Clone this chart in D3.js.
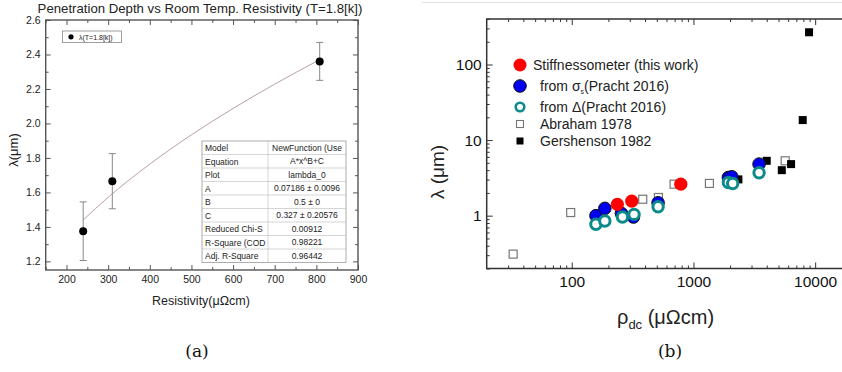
<!DOCTYPE html>
<meta charset="utf-8">
<html>
<head>
<style>
  body { margin: 0; background: #fff; }
  text { font-family: "Liberation Sans", Arial, sans-serif; fill: #222; }
  .axa .domain, .axb .domain { display: none; }
  .axa line { stroke: #555; stroke-width: 1; }
  .axb line { stroke: #333; stroke-width: 1; }
  .axa text { font-size: 10.5px; fill: #222; }
  .axb text { font-size: 15.5px; fill: #111; }
  .cap { font-family: "DejaVu Serif", "Liberation Serif", serif; font-size: 17px; fill: #111; }
</style>
<script src="https://cdnjs.cloudflare.com/ajax/libs/d3/7.8.5/d3.min.js"></script>
</head>
<body>
<div id="chart"></div>
<script>
// ---- panel (a): penetration depth vs resistivity ----
var resist = [240, 310, 808],
    lambdaA = [1.375, 1.665, 2.36],
    lambdaErr = [0.17, 0.16, 0.11];
// fit curve
var fitX = [240, 300, 400, 500, 600, 700, 808],
    fitY = [1.44, 1.572, 1.764, 1.934, 2.087, 2.228, 2.37];
var fitRows = [
  ["Model", "NewFunction (Use"],
  ["Equation", "A*x^B+C"],
  ["Plot", "lambda_0"],
  ["A", "0.07186 \u00b1 0.0096"],
  ["B", "0.5 \u00b1 0"],
  ["C", "0.327 \u00b1 0.20576"],
  ["Reduced Chi-S", "0.00912"],
  ["R-Square (COD", "0.98221"],
  ["Adj. R-Square", "0.96442"]
];
var xTicksA = [200, 300, 400, 500, 600, 700, 800, 900],
    xMinorA = [150, 250, 350, 450, 550, 650, 750, 850],
    yTicksA = [1.2, 1.4, 1.6, 1.8, 2.0, 2.2, 2.4, 2.6],
    yMinorA = [1.3, 1.5, 1.7, 1.9, 2.1, 2.3, 2.5];

// ---- panel (b): lambda vs rho_dc, log-log ----
var stiffX = [237, 311, 787],
    stiffY = [1.41, 1.56, 2.61];
var sigmaX = [158, 187, 256, 321, 512, 1936, 2065, 3460],
    sigmaY = [1.0, 1.25, 1.07, 0.96, 1.48, 3.2, 3.27, 4.81];
var deltaX = [158, 187, 261, 325, 512, 1936, 2100, 3460],
    deltaY = [0.77, 0.85, 0.96, 1.04, 1.31, 2.75, 2.67, 3.69];
var abrahamX = [33, 98, 383, 515, 693, 1352, 5670],
    abrahamY = [0.31, 1.1, 1.65, 1.74, 2.61, 2.67, 5.32];
var gershX = [2340, 4000, 5320, 6340, 7900, 8910],
    gershY = [3.02, 5.32, 4.0, 4.81, 18.4, 267];
var xTicksB = [100, 1000, 10000],
    yTicksB = [1, 10, 100];

var svg = d3.select("#chart").append("svg")
    .attr("width", 842)
    .attr("height", 372);

// ================= panel (a) =================
var xa = d3.scaleLinear().domain([150, 900]).range([45.7, 358]),
    ya = d3.scaleLinear().domain([1.15, 2.6]).range([270, 20]);

var ga = svg.append("g");

ga.append("text")
  .attr("x", 200).attr("y", 13)
  .attr("text-anchor", "middle")
  .style("font-size", "13.2px")
  .text("Penetration Depth vs Room Temp. Resistivity (T=1.8[k])");

// axes with inside ticks
ga.append("g").attr("class", "axa").attr("transform", "translate(0,270)")
  .call(d3.axisBottom(xa).tickValues(xTicksA).tickSize(-5).tickPadding(6).tickFormat(d3.format("d")));
ga.append("g").attr("class", "axa").attr("transform", "translate(0,270)")
  .call(d3.axisBottom(xa).tickValues(xMinorA).tickSize(-3).tickFormat(""));
ga.append("g").attr("class", "axa").attr("transform", "translate(0,20)")
  .call(d3.axisTop(xa).tickValues(xTicksA).tickSize(-5).tickFormat(""));
ga.append("g").attr("class", "axa").attr("transform", "translate(0,20)")
  .call(d3.axisTop(xa).tickValues(xMinorA).tickSize(-3).tickFormat(""));
ga.append("g").attr("class", "axa").attr("transform", "translate(45.7,0)")
  .call(d3.axisLeft(ya).tickValues(yTicksA).tickSize(-5).tickPadding(5).tickFormat(d3.format(".1f")));
ga.append("g").attr("class", "axa").attr("transform", "translate(45.7,0)")
  .call(d3.axisLeft(ya).tickValues(yMinorA).tickSize(-3).tickFormat(""));
ga.append("g").attr("class", "axa").attr("transform", "translate(358,0)")
  .call(d3.axisRight(ya).tickValues(yTicksA).tickSize(-5).tickFormat(""));
ga.append("g").attr("class", "axa").attr("transform", "translate(358,0)")
  .call(d3.axisRight(ya).tickValues(yMinorA).tickSize(-3).tickFormat(""));

ga.append("rect")
  .attr("x", 45.7).attr("y", 20)
  .attr("width", 358 - 45.7).attr("height", 250)
  .style("fill", "none").style("stroke", "#555").style("stroke-width", 1.4);

// fit curve
ga.append("path")
  .datum(d3.zip(fitX, fitY))
  .attr("d", d3.line().x(function(d) { return xa(d[0]); }).y(function(d) { return ya(d[1]); }).curve(d3.curveMonotoneX))
  .style("fill", "none").style("stroke", "#b8a0a6").style("stroke-width", 1);

// error bars
var eb = ga.selectAll(".eb").data(resist).enter().append("g");
eb.append("line")
  .attr("x1", function(d) { return xa(d); }).attr("x2", function(d) { return xa(d); })
  .attr("y1", function(d, i) { return ya(lambdaA[i] - lambdaErr[i]); })
  .attr("y2", function(d, i) { return ya(lambdaA[i] + lambdaErr[i]); });
eb.append("line")
  .attr("x1", function(d) { return xa(d) - 3.5; }).attr("x2", function(d) { return xa(d) + 3.5; })
  .attr("y1", function(d, i) { return ya(lambdaA[i] - lambdaErr[i]); })
  .attr("y2", function(d, i) { return ya(lambdaA[i] - lambdaErr[i]); });
eb.append("line")
  .attr("x1", function(d) { return xa(d) - 3.5; }).attr("x2", function(d) { return xa(d) + 3.5; })
  .attr("y1", function(d, i) { return ya(lambdaA[i] + lambdaErr[i]); })
  .attr("y2", function(d, i) { return ya(lambdaA[i] + lambdaErr[i]); });
eb.selectAll("line").style("stroke", "#888").style("stroke-width", 1);

ga.selectAll(".pa").data(resist).enter().append("circle")
  .attr("cx", function(d) { return xa(d); })
  .attr("cy", function(d, i) { return ya(lambdaA[i]); })
  .attr("r", 4)
  .style("fill", "#000");

// legend (a)
ga.append("rect").attr("x", 62.5).attr("y", 31).attr("width", 59).attr("height", 11.5)
  .style("fill", "#fff").style("stroke", "#888").style("stroke-width", 0.8);
ga.append("circle").attr("cx", 71).attr("cy", 36.8).attr("r", 2.6).style("fill", "#000");
ga.append("text").attr("x", 79).attr("y", 39.5).style("font-size", "7px").text("\u03bb(T=1.8[k])");

// fit table
var tx = 202, tw = 144, tc = 268, ty = 141, rh = 13.5;
var tbl = ga.append("g");
tbl.append("rect").attr("x", tx).attr("y", ty).attr("width", tw).attr("height", rh * fitRows.length)
  .style("fill", "#fff").style("stroke", "#999").style("stroke-width", 0.8);
tbl.selectAll(".hl").data(fitRows.slice(1)).enter().append("line")
  .attr("x1", tx).attr("x2", tx + tw)
  .attr("y1", function(d, i) { return ty + rh * (i + 1); })
  .attr("y2", function(d, i) { return ty + rh * (i + 1); })
  .style("stroke", "#bbb").style("stroke-width", 0.6);
tbl.append("line").attr("x1", tc).attr("x2", tc).attr("y1", ty).attr("y2", ty + rh * fitRows.length)
  .style("stroke", "#bbb").style("stroke-width", 0.6);
tbl.selectAll(".c1").data(fitRows).enter().append("text")
  .attr("x", tx + 3).attr("y", function(d, i) { return ty + rh * i + 10; })
  .style("font-size", "8.5px").text(function(d) { return d[0]; });
tbl.selectAll(".c2").data(fitRows).enter().append("text")
  .attr("x", (tc + tx + tw) / 2).attr("y", function(d, i) { return ty + rh * i + 9.5; })
  .attr("text-anchor", "middle")
  .style("font-size", "8.5px").text(function(d) { return d[1]; });

ga.append("text")
  .attr("transform", "translate(18,150) rotate(-90)")
  .attr("text-anchor", "middle")
  .style("font-size", "13px")
  .text("\u03bb(\u03bcm)");
ga.append("text")
  .attr("x", 201).attr("y", 305)
  .attr("text-anchor", "middle")
  .style("font-size", "12.5px")
  .text("Resistivity(\u03bc\u03a9cm)");
ga.append("text").attr("class", "cap").attr("x", 197).attr("y", 357).attr("text-anchor", "middle").text("(a)");

// ================= panel (b) =================
var xb = d3.scaleLog().domain([20, 20000]).range([486.7, 851.8]),
    yb = d3.scaleLog().domain([0.2, 400]).range([268.5, 19]);

var gb = svg.append("g");

gb.append("line").attr("x1", 422).attr("x2", 842).attr("y1", 2.5).attr("y2", 2.5)
  .style("stroke", "#e2e2e2").style("stroke-width", 1);

var xMinorB = [], yMinorB = [];
[10, 100, 1000, 10000].forEach(function(dec) {
  for (var k = 2; k <= 9; k++) {
    var v = dec * k;
    if (v > 20 && v < 20000 && xTicksB.indexOf(v) < 0) xMinorB.push(v);
  }
});
[0.1, 1, 10, 100].forEach(function(dec) {
  for (var k = 2; k <= 9; k++) {
    var v = +(dec * k).toPrecision(3);
    if (v >= 0.2 && v <= 400) yMinorB.push(v);
  }
});

gb.append("g").attr("class", "axb").attr("transform", "translate(0,268.5)")
  .call(d3.axisBottom(xb).tickValues(xTicksB).tickSize(-6).tickPadding(7).tickFormat(d3.format("d")));
gb.append("g").attr("class", "axb").attr("transform", "translate(0,268.5)")
  .call(d3.axisBottom(xb).tickValues(xMinorB).tickSize(-3).tickFormat(""));
gb.append("g").attr("class", "axb").attr("transform", "translate(0,19)")
  .call(d3.axisTop(xb).tickValues(xTicksB).tickSize(-6).tickFormat(""));
gb.append("g").attr("class", "axb").attr("transform", "translate(0,19)")
  .call(d3.axisTop(xb).tickValues(xMinorB).tickSize(-3).tickFormat(""));
gb.append("g").attr("class", "axb").attr("transform", "translate(486.7,0)")
  .call(d3.axisLeft(yb).tickValues(yTicksB).tickSize(-6).tickPadding(5).tickFormat(d3.format("d")));
gb.append("g").attr("class", "axb").attr("transform", "translate(486.7,0)")
  .call(d3.axisLeft(yb).tickValues(yMinorB).tickSize(-3).tickFormat(""));

gb.append("path")
  .attr("d", "M842,19H486.7V268.5H842")
  .style("fill", "none").style("stroke", "#333").style("stroke-width", 1.5);

// data (b)
gb.selectAll(".ab").data(abrahamX).enter().append("rect")
  .attr("x", function(d) { return xb(d) - 4; })
  .attr("y", function(d, i) { return yb(abrahamY[i]) - 4; })
  .attr("width", 8).attr("height", 8)
  .style("fill", "#fff").style("stroke", "#777").style("stroke-width", 1.2);
gb.selectAll(".ge").data(gershX).enter().append("rect")
  .attr("x", function(d) { return xb(d) - 4; })
  .attr("y", function(d, i) { return yb(gershY[i]) - 4; })
  .attr("width", 8).attr("height", 8)
  .style("fill", "#000");
gb.selectAll(".sg").data(sigmaX).enter().append("circle")
  .attr("cx", function(d) { return xb(d); })
  .attr("cy", function(d, i) { return yb(sigmaY[i]); })
  .attr("r", 6.3)
  .style("fill", "#0000f0").style("stroke", "#111").style("stroke-width", 1);
gb.selectAll(".dl").data(deltaX).enter().append("circle")
  .attr("cx", function(d) { return xb(d); })
  .attr("cy", function(d, i) { return yb(deltaY[i]); })
  .attr("r", 5.2)
  .style("fill", "#fff").style("stroke", "#0b8a8a").style("stroke-width", 3);
gb.selectAll(".st").data(stiffX).enter().append("circle")
  .attr("cx", function(d) { return xb(d); })
  .attr("cy", function(d, i) { return yb(stiffY[i]); })
  .attr("r", 6.6)
  .style("fill", "#ff0000");

// legend (b)
var lg = gb.append("g").style("font-size", "14px");
lg.append("circle").attr("cx", 520).attr("cy", 65).attr("r", 6.5).style("fill", "#ff0000");
lg.append("text").attr("x", 533).attr("y", 70).text("Stiffnessometer (this work)");
lg.append("circle").attr("cx", 520).attr("cy", 86).attr("r", 6.3).style("fill", "#0000f0").style("stroke", "#111");
var t2 = lg.append("text").attr("x", 540).attr("y", 91);
t2.append("tspan").text("from \u03c3");
t2.append("tspan").attr("dy", 3).style("font-size", "7px").text("s");
t2.append("tspan").attr("dy", -3).text("(Pracht 2016)");
lg.append("circle").attr("cx", 520).attr("cy", 107).attr("r", 4.3).style("fill", "#fff").style("stroke", "#0b8a8a").style("stroke-width", 2.6);
lg.append("text").attr("x", 540).attr("y", 112).text("from \u0394(Pracht 2016)");
lg.append("rect").attr("x", 516.5).attr("y", 120.5).attr("width", 7).attr("height", 7)
  .style("fill", "#fff").style("stroke", "#777").style("stroke-width", 1.1);
lg.append("text").attr("x", 540).attr("y", 129).text("Abraham 1978");
lg.append("rect").attr("x", 516.5).attr("y", 137.5).attr("width", 7).attr("height", 7).style("fill", "#000");
lg.append("text").attr("x", 540).attr("y", 146).text("Gershenson 1982");

gb.append("text")
  .attr("transform", "translate(444,172) rotate(-90)")
  .attr("text-anchor", "middle")
  .style("font-size", "19px")
  .text("\u03bb (\u03bcm)");
var xl = gb.append("text").attr("x", 617).attr("y", 324).style("font-size", "20px");
xl.append("tspan").text("\u03c1");
xl.append("tspan").attr("dy", 5).style("font-size", "13px").text("dc");
xl.append("tspan").attr("dy", -5).text(" (\u03bc\u03a9cm)");
gb.append("text").attr("class", "cap").attr("x", 670).attr("y", 357).attr("text-anchor", "middle").text("(b)");
</script>
</body>
</html>
